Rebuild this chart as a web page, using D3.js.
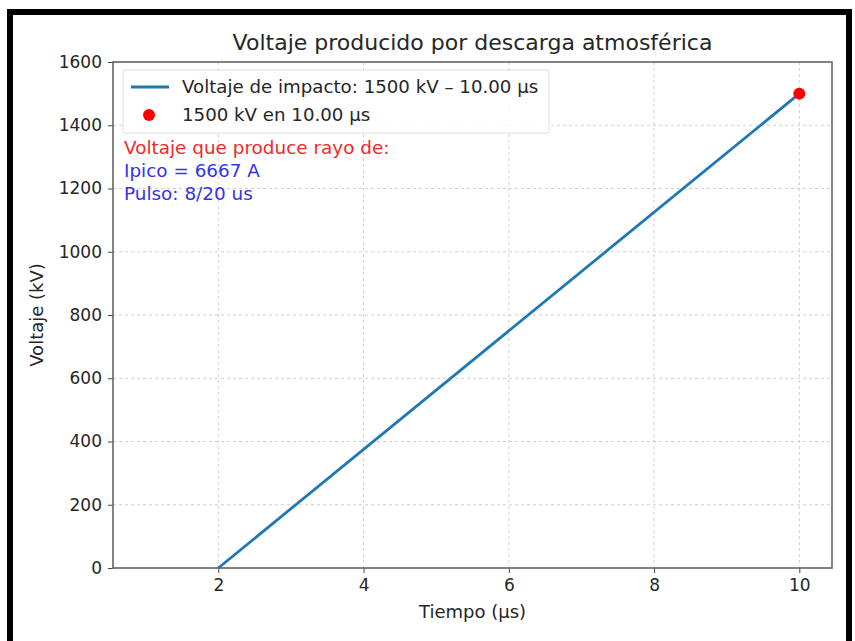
<!DOCTYPE html>
<html lang="es">
  <head>
    <meta charset="UTF-8" />
    <title>Voltaje producido por descarga atmosférica</title>
    <script src="https://d3js.org/d3.v7.min.js"></script>
    <style>
      body {
        margin: 0;
        background: #fff;
      }
      .chart text {
        font-family: "DejaVu Sans", sans-serif;
        fill: #262626;
      }
    </style>
  </head>
  <body>
    <div class="chart"></div>
  </body>

  <script>
    // data
    var tiempo = [2, 10]; // µs
    var voltaje = [0, 1500]; // kV
    var pico = { t: 10, v: 1500 };
    var xLimits = [0.55, 10.45];
    var yLimits = [0, 1600];
    var xTicks = [2, 4, 6, 8, 10];
    var yTicks = [0, 200, 400, 600, 800, 1000, 1200, 1400, 1600];
    var legendLabels = ["Voltaje de impacto: 1500 kV – 10.00 µs", "1500 kV en 10.00 µs"];
    var notas = [
      { text: "Voltaje que produce rayo de:", color: "#ee2a2a" },
      { text: "Ipico = 6667 A", color: "#3333e6" },
      { text: "Pulso: 8/20 us", color: "#3333e6" },
    ];

    var W = 855, H = 641;
    var margin = { top: 62, right: 23, bottom: 73, left: 113 };
    var width = W - margin.left - margin.right;
    var height = H - margin.top - margin.bottom;

    var svgRoot = d3.select(".chart").append("svg").attr("width", W).attr("height", H);

    // black frame round the picture
    svgRoot.append("rect")
      .attr("x", 10).attr("y", 12)
      .attr("width", 839).attr("height", 640)
      .attr("fill", "none").attr("stroke", "#000").attr("stroke-width", 6);

    var svg = svgRoot.append("g").attr("transform", "translate(" + margin.left + "," + margin.top + ")");

    var x = d3.scaleLinear().domain(xLimits).range([0, width]);
    var y = d3.scaleLinear().domain(yLimits).range([height, 0]);

    // grid
    svg.append("g").selectAll("line").data(xTicks).enter().append("line")
      .attr("x1", function (d) { return x(d); }).attr("x2", function (d) { return x(d); })
      .attr("y1", 0).attr("y2", height)
      .attr("stroke", "#d0d0d0").attr("stroke-dasharray", "3,3").attr("stroke-width", 1);
    svg.append("g").selectAll("line").data(yTicks).enter().append("line")
      .attr("y1", function (d) { return y(d); }).attr("y2", function (d) { return y(d); })
      .attr("x1", 0).attr("x2", width)
      .attr("stroke", "#d0d0d0").attr("stroke-dasharray", "3,3").attr("stroke-width", 1);

    // axes
    var xAxis = svg.append("g").attr("transform", "translate(0," + height + ")")
      .call(d3.axisBottom(x).tickValues(xTicks).tickSize(5).tickPadding(6).tickFormat(d3.format("d")));
    var yAxis = svg.append("g")
      .call(d3.axisLeft(y).tickValues(yTicks).tickSize(5).tickPadding(6).tickFormat(d3.format("d")));
    [xAxis, yAxis].forEach(function (a) {
      a.select(".domain").remove();
      a.selectAll(".tick line").attr("stroke", "#444");
      a.selectAll(".tick text").style("font-size", "17px").attr("fill", "#333");
    });

    // line
    var pts = tiempo.map(function (t, i) { return [t, voltaje[i]]; });
    svg.append("path").datum(pts)
      .attr("fill", "none").attr("stroke", "#1f77b4").attr("stroke-width", 2.8)
      .attr("d", d3.line().x(function (d) { return x(d[0]); }).y(function (d) { return y(d[1]); }));

    svg.append("circle")
      .attr("cx", x(pico.t)).attr("cy", y(pico.v)).attr("r", 6)
      .attr("fill", "#ff0000");

    // spines
    svg.append("rect").attr("width", width).attr("height", height)
      .attr("fill", "none").attr("stroke", "#666").attr("stroke-width", 1.6);

    // legend
    var lg = svg.append("g").attr("transform", "translate(10,8)");
    lg.append("rect").attr("width", 426).attr("height", 63).attr("rx", 3)
      .attr("fill", "#fff").attr("fill-opacity", 0.85).attr("stroke", "#dcdcdc");
    lg.append("line").attr("x1", 8).attr("x2", 46).attr("y1", 17).attr("y2", 17)
      .attr("stroke", "#1f77b4").attr("stroke-width", 2.8);
    lg.append("circle").attr("cx", 26).attr("cy", 45).attr("r", 6).attr("fill", "#ff0000");
    lg.selectAll("text.lab").data(legendLabels).enter().append("text")
      .attr("class", "lab")
      .attr("x", 59).attr("y", function (d, i) { return 23 + i * 28; })
      .style("font-size", "18.2px").text(function (d) { return d; });

    // notes
    svg.selectAll("text.nota").data(notas).enter().append("text")
      .attr("class", "nota")
      .attr("x", 11).attr("y", function (d, i) { return 92 + i * 23; })
      .style("font-size", "18.4px")
      .style("fill", function (d) { return d.color; })
      .text(function (d) { return d.text; });

    // title and axis labels
    svg.append("text").attr("x", width / 2).attr("y", -12)
      .attr("text-anchor", "middle").style("font-size", "22px")
      .text("Voltaje producido por descarga atmosférica");
    svg.append("text").attr("x", width / 2).attr("y", height + 50)
      .attr("text-anchor", "middle").style("font-size", "18px")
      .text("Tiempo (µs)");
    svg.append("text")
      .attr("transform", "translate(" + (-70) + "," + height / 2 + ") rotate(-90)")
      .attr("text-anchor", "middle").style("font-size", "18px")
      .text("Voltaje (kV)");
  </script>
</html>
